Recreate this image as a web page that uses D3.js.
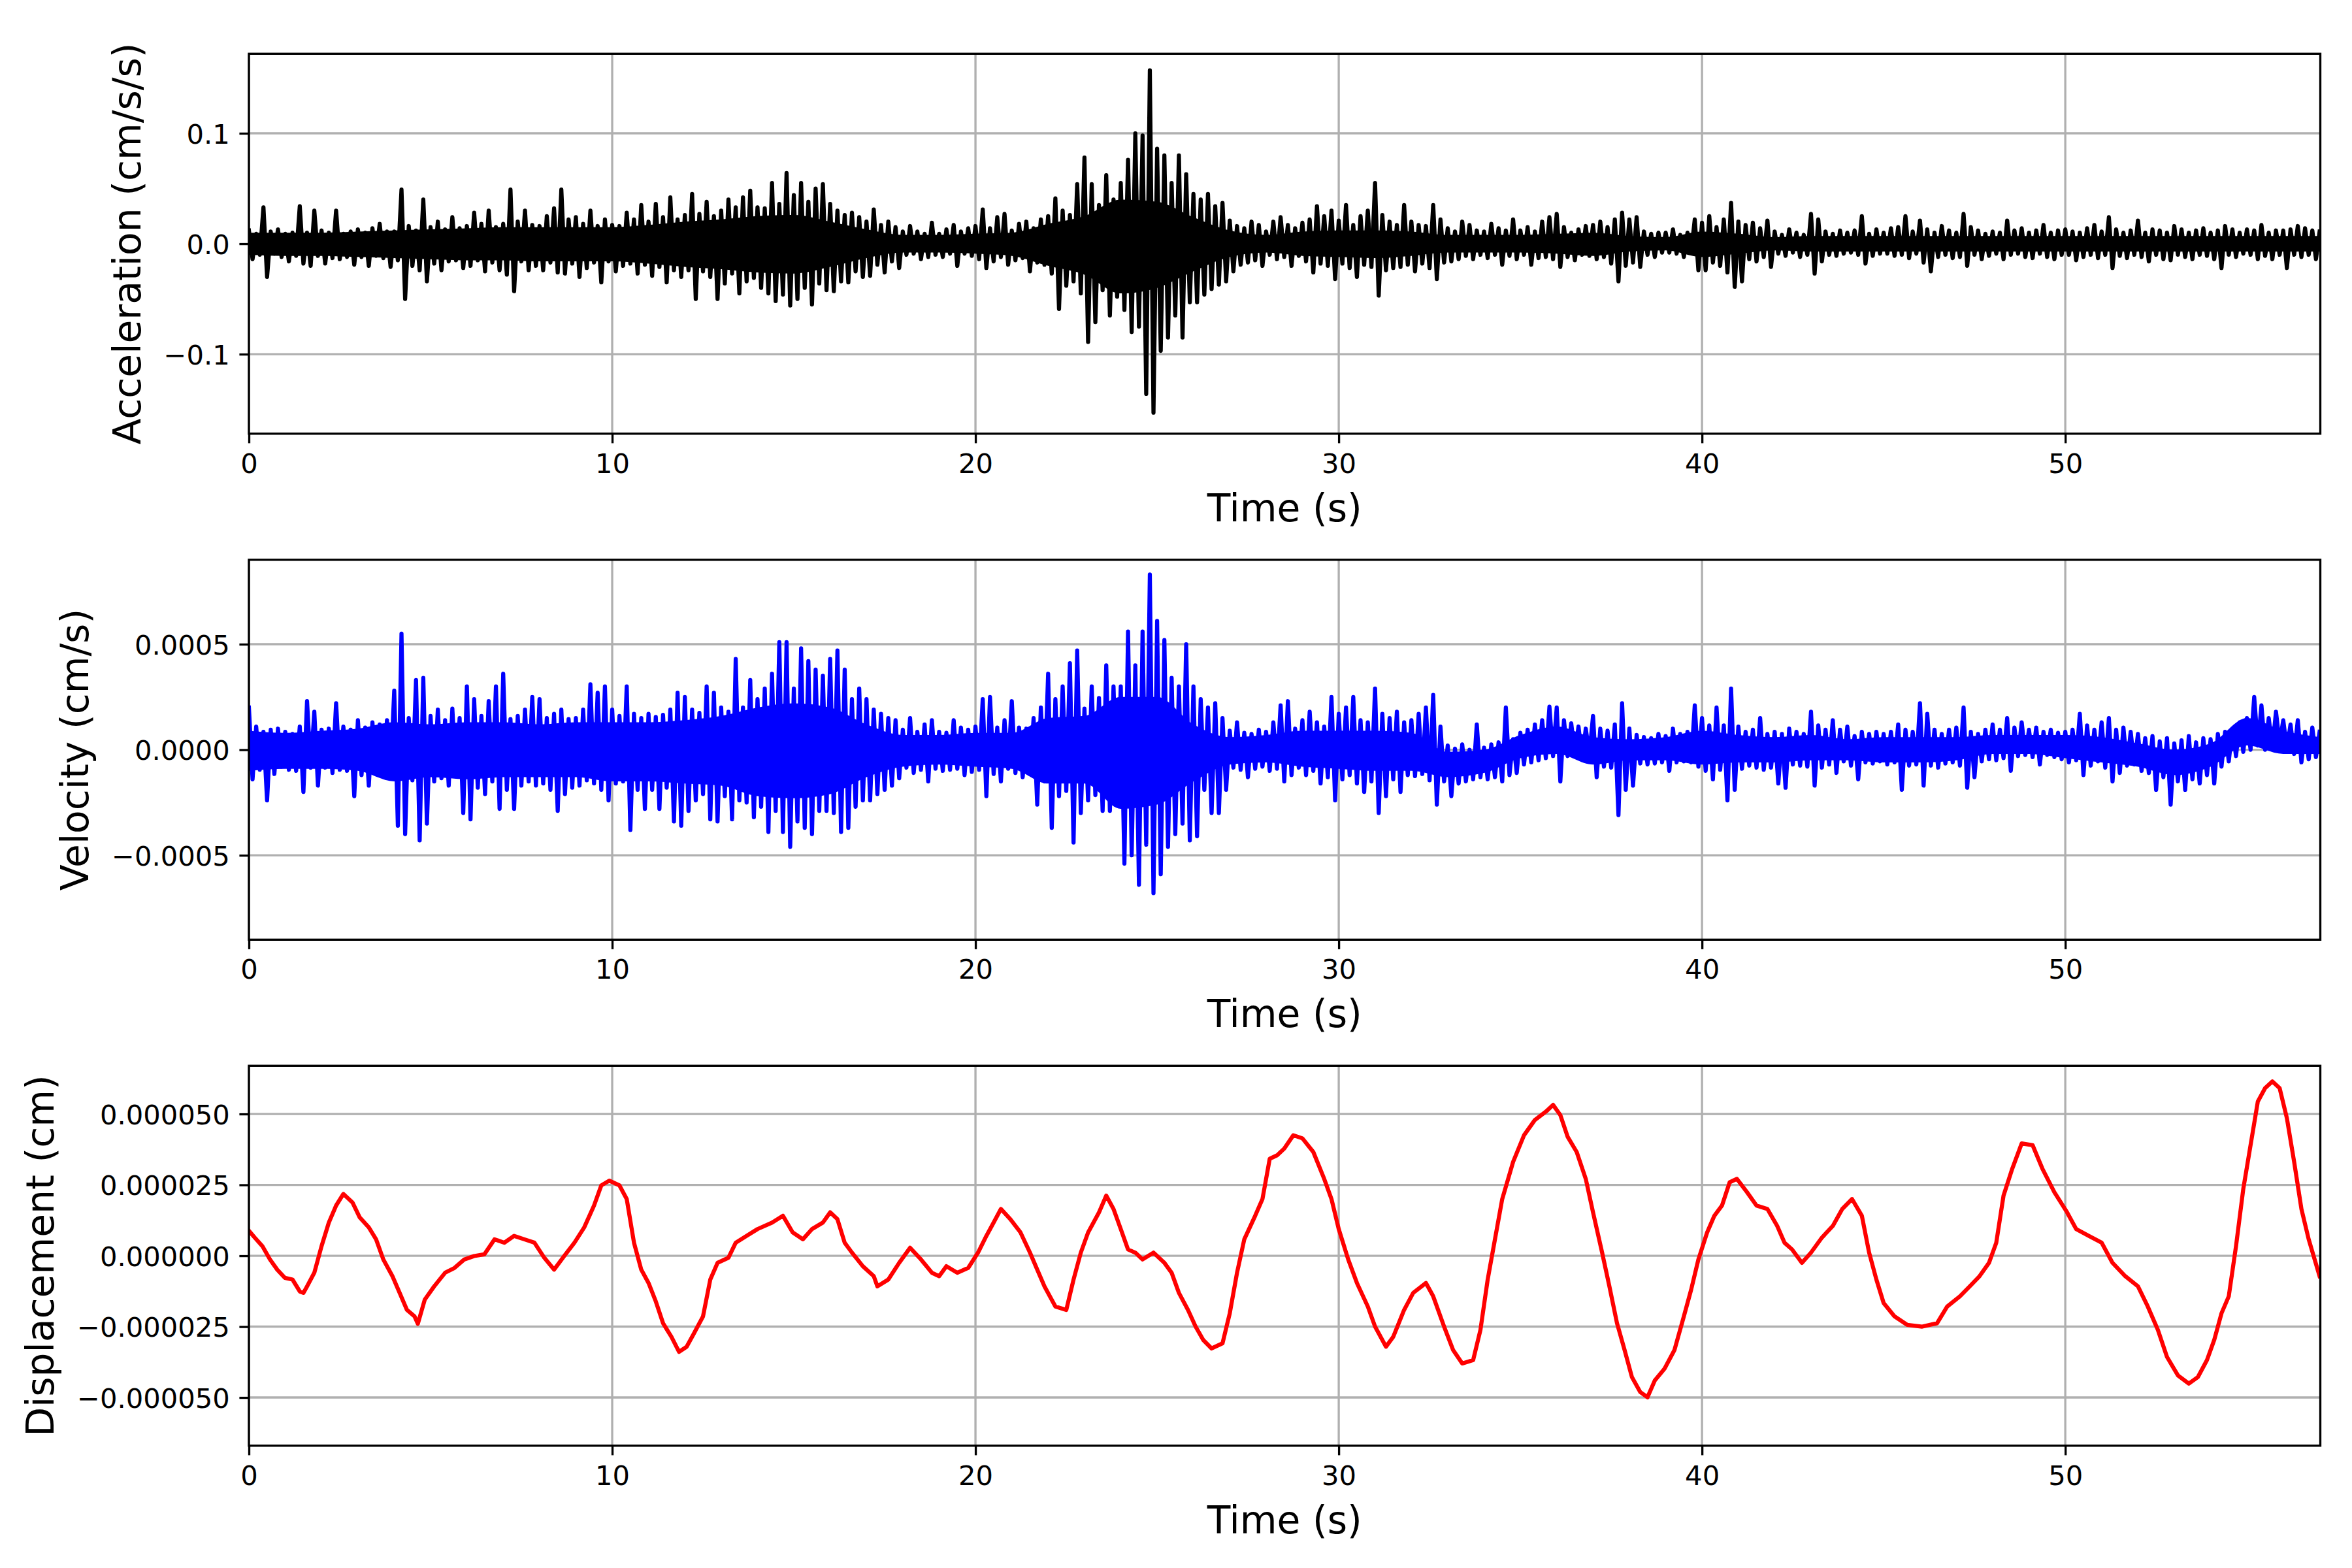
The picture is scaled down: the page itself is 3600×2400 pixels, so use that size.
<!DOCTYPE html>
<html>
<head>
<meta charset="utf-8">
<script src="https://cdn.jsdelivr.net/npm/d3@7"></script>
<style>
  body { margin: 0; background: #ffffff; }
  svg { display: block; }
  text { font-family: "DejaVu Sans", sans-serif; fill: #000; }
</style>
</head>
<body>
<svg id="chart" width="3600" height="2400"></svg>
<script>
// ---------------- DATA ----------------
// Sampling interval of the two noisy traces (s)
const SAMPLE_DT = 0.1;
// Sampling interval of the dense-core envelopes (s)
const CORE_DT = 1.0;

// Acceleration, units of 1e-3 cm/s/s, one value every 0.1 s from t = 0 to 57 s
const ACC_UNIT = 1e-3;
const acceleration = [
  12,-14,9,-10,33,-30,11,-9,13,-12,
  9,-16,10,-11,34,-18,10,-20,30,-11,
  12,-18,10,-13,30,-14,9,-12,11,-19,
  13,-12,10,-20,14,-11,18,-13,11,-21,
  11,-15,49,-50,16,-20,12,-24,40,-34,
  15,-18,20,-24,13,-16,24,-15,14,-22,
  16,-20,28,-15,18,-25,30,-17,15,-24,
  18,-28,49,-43,20,-16,30,-24,17,-20,
  16,-24,25,-17,32,-26,49,-27,22,-18,
  24,-30,18,-22,30,-17,16,-35,22,-16,
  17,-25,16,-20,28,-18,22,-27,35,-19,
  20,-29,36,-21,24,-35,42,-24,22,-30,
  26,-24,45,-50,27,-25,38,-30,25,-50,
  30,-36,40,-27,33,-45,42,-34,48,-31,
  33,-40,32,-45,55,-52,36,-46,64,-56,
  44,-50,55,-40,38,-55,50,-36,54,-42,
  36,-43,30,-34,26,-35,28,-25,24,-30,
  20,-29,31,-19,17,-26,20,-16,15,-22,
  11,-10,16,-9,11,-14,9,-12,19,-10,
  9,-12,13,-9,17,-20,11,-9,14,-11,
  16,-14,31,-22,14,-16,24,-12,27,-19,
  12,-15,18,-13,20,-25,14,-17,22,-19,
  25,-27,41,-59,30,-38,26,-34,54,-45,
  78,-89,54,-71,35,-42,62,-65,40,-48,
  55,-60,76,-80,100,-75,98,-136,157,-153,
  86,-97,80,-85,55,-65,80,-85,63,-53,
  45,-53,40,-46,45,-41,34,-37,37,-34,
  21,-25,16,-19,14,-17,20,-15,17,-20,
  11,-10,20,-14,24,-12,17,-20,14,-11,
  19,-16,22,-26,34,-18,25,-20,30,-32,
  21,-18,35,-22,17,-30,25,-19,30,-21,
  55,-47,26,-24,20,-22,17,-21,35,-19,
  20,-25,17,-18,16,-22,35,-32,22,-17,
  14,-16,11,-14,20,-11,17,-14,12,-10,
  11,-13,18,-10,14,-19,12,-11,22,-14,
  12,-10,15,-19,11,-13,20,-12,24,-14,
  27,-21,15,-12,10,-15,13,-10,16,-11,
  17,-14,20,-12,15,-18,22,-34,28,-20,
  22,-17,24,-21,11,-10,9,-12,10,-8,
  10,-8,13,-9,8,-12,10,-8,22,-24,
  19,-24,25,-17,15,-20,22,-26,37,-39,
  20,-34,17,-14,19,-16,14,-12,21,-21,
  11,-9,8,-11,13,-8,10,-12,8,-10,
  27,-27,22,-16,11,-10,9,-11,12,-9,
  10,-8,12,-10,25,-18,9,-11,13,-9,
  10,-9,14,-11,15,-10,25,-13,11,-9,
  21,-17,13,-25,10,-12,16,-10,12,-13,
  10,-12,27,-20,15,-10,12,-14,9,-11,
  11,-9,10,-14,21,-10,12,-9,14,-12,
  10,-13,12,-9,17,-12,10,-14,12,-10,
  13,-10,11,-15,10,-12,14,-10,17,-13,
  11,-10,24,-22,13,-11,10,-13,12,-10,
  21,-12,10,-16,13,-10,12,-14,10,-15,
  16,-10,13,-12,10,-14,12,-10,14,-11,
  10,-14,12,-22,16,-10,13,-12,10,-9,
  13,-10,12,-14,17,-11,10,-14,12,-10,
  12,-22,13,-10,16,-12,14,-10,12,-14,
  11
];
// Dense black core of the acceleration trace, upper / lower edge, 1e-3 cm/s/s, every 1 s
const accCoreUpper = [
  10,10,10,11,12,13,14,15,15,15,
  15,17,20,22,25,26,20,13,8,8,
  9,10,18,25,40,38,24,12,8,11,
  12,12,11,8,8,8,9,10,7,6,
  11,9,6,7,7,7,7,7,7,7,
  7,7,7,7,7,7,7,7
];
const accCoreLower = [
  -10,-11,-11,-12,-13,-14,-15,-15,-16,-16,
  -16,-18,-21,-23,-26,-27,-21,-13,-8,-8,
  -9,-11,-20,-28,-45,-40,-25,-12,-8,-11,
  -12,-13,-11,-8,-8,-8,-9,-11,-7,-6,
  -12,-9,-6,-7,-7,-7,-7,-7,-7,-7,
  -7,-7,-7,-7,-7,-7,-7,-7
];

// Velocity, units of 1e-6 cm/s, one value every 0.1 s from t = 0 to 57 s
const VEL_UNIT = 1e-6;
const velocity = [
  200,-140,110,-95,85,-240,95,-115,100,-80,
  85,-95,75,-100,110,-200,230,-85,180,-170,
  95,-85,100,-110,220,-95,110,-100,95,-220,
  140,-120,105,-170,130,-105,120,-115,140,-105,
  280,-360,550,-400,150,-145,330,-430,340,-350,
  160,-150,190,-135,140,-170,195,-125,150,-300,
  300,-330,240,-180,160,-210,230,-150,300,-280,
  360,-190,145,-280,160,-170,190,-150,250,-170,
  240,-160,150,-190,170,-290,190,-210,145,-180,
  150,-170,190,-145,310,-160,270,-190,300,-240,
  190,-160,160,-150,300,-380,170,-190,150,-280,
  170,-190,155,-280,165,-180,190,-340,270,-360,
  250,-290,190,-240,175,-210,300,-330,270,-340,
  200,-220,180,-330,430,-240,200,-250,330,-320,
  240,-270,290,-390,360,-290,510,-390,510,-460,
  290,-340,480,-370,420,-400,380,-290,350,-290,
  430,-300,470,-390,380,-370,240,-270,290,-240,
  240,-240,190,-210,170,-190,150,-170,140,-135,
  95,-85,150,-110,85,-95,120,-150,140,-90,
  85,-100,80,-95,140,-90,105,-120,95,-105,
  110,-95,240,-220,250,-115,105,-150,140,-90,
  230,-110,105,-130,100,-115,150,-260,200,-150,
  360,-370,240,-220,300,-195,410,-440,470,-300,
  195,-240,300,-215,245,-290,400,-290,300,-250,
  300,-540,560,-500,400,-640,560,-450,830,-680,
  610,-590,520,-460,340,-400,300,-350,500,-430,
  300,-410,240,-190,200,-300,220,-300,150,-190,
  90,-85,130,-95,80,-130,75,-90,95,-80,
  85,-100,130,-90,210,-150,230,-120,100,-85,
  140,-120,180,-100,130,-160,110,-130,250,-240,
  170,-140,200,-120,250,-160,140,-200,130,-150,
  290,-300,170,-220,150,-140,180,-200,130,-120,
  140,-125,170,-115,200,-145,260,-260,110,-150,
  20,-220,5,-160,25,-150,0,-140,120,-130,
  10,-140,25,-130,35,-150,200,-120,50,-110,
  80,-70,95,-60,120,-50,140,-40,204,-30,
  200,-150,140,-30,125,-20,110,-40,100,-20,
  160,-130,100,-80,90,-85,120,-310,220,-190,
  100,-170,70,-65,60,-70,55,-65,75,-60,
  65,-100,100,-60,75,-55,85,-60,210,-80,
  150,-100,115,-140,200,-95,115,-240,290,-190,
  110,-90,85,-75,95,-85,150,-95,75,-85,
  85,-160,75,-180,100,-70,85,-75,75,-80,
  180,-170,115,-85,95,-70,140,-110,95,-55,
  110,-75,65,-140,85,-60,75,-65,85,-55,
  75,-70,85,-60,120,-190,95,-75,85,-70,
  220,-170,170,-75,95,-85,75,-65,95,-60,
  105,-75,200,-180,85,-130,75,-55,95,-45,
  120,-50,95,-40,150,-100,105,-30,130,-25,
  95,-35,105,-70,85,-25,95,-35,80,-45,
  85,-60,95,-50,170,-120,115,-75,95,-55,
  130,-85,150,-150,95,-110,105,-75,85,-70,
  75,-100,55,-110,65,-190,40,-130,55,-260,
  30,-150,45,-190,65,-140,35,-160,55,-120,
  50,-160,75,-80,85,-55,100,-30,130,-10,
  150,0,250,20,210,0,150,10,180,30,
  140,5,120,-20,140,-60,85,-45,105,-35,
  85
];
// Dense blue core of the velocity trace, upper / lower edge, 1e-6 cm/s, every 1 s
const velCoreUpper = [
  90,80,90,100,130,120,130,130,120,130,
  130,130,140,160,200,220,200,120,70,70,
  80,80,150,160,250,250,120,60,70,90,
  90,90,80,-10,0,70,110,60,50,60,
  90,70,60,70,50,60,60,60,70,70,
  70,60,30,0,30,150,90,60
];
const velCoreLower = [
  -100,-90,-90,-100,-150,-130,-140,-130,-130,-130,
  -150,-150,-160,-170,-220,-230,-210,-130,-80,-70,
  -80,-90,-160,-160,-280,-260,-150,-70,-60,-80,
  -90,-100,-100,-130,-110,-40,-20,-70,-50,-50,
  -70,-60,-60,-50,-50,-60,-60,-50,-20,-20,
  -40,-60,-80,-120,-80,20,-20,-20
];

// Displacement: times (s) and values in units of 1e-7 cm
const DISP_UNIT = 1e-7;
const dispTime = [
  0,0.16,0.37,0.58,0.78,0.99,1.2,1.4,1.5,1.6,
  1.8,2.0,2.2,2.4,2.6,2.85,3.05,3.3,3.5,3.7,
  3.95,4.15,4.35,4.56,4.65,4.84,5.1,5.4,5.66,5.93,
  6.2,6.48,6.76,7.03,7.3,7.58,7.86,8.13,8.4,8.68,
  8.96,9.23,9.5,9.7,9.92,10.2,10.4,10.6,10.8,11.0,
  11.2,11.4,11.63,11.84,12.05,12.25,12.5,12.7,12.9,13.2,
  13.4,13.7,14.0,14.4,14.7,14.97,15.25,15.5,15.8,16.0,
  16.2,16.4,16.6,16.9,17.2,17.3,17.6,17.9,18.2,18.5,
  18.8,19.0,19.2,19.5,19.8,20.07,20.3,20.5,20.7,20.96,
  21.24,21.5,21.7,21.9,22.2,22.5,22.7,22.9,23.1,23.4,
  23.6,23.8,24.0,24.2,24.4,24.6,24.9,25.2,25.4,25.6,
  25.85,26.06,26.27,26.5,26.8,27.0,27.2,27.4,27.7,27.9,
  28.1,28.3,28.5,28.75,29.0,29.3,29.6,29.8,30.0,30.26,
  30.5,30.8,31.0,31.3,31.5,31.8,32.05,32.4,32.6,32.9,
  33.15,33.4,33.7,33.9,34.1,34.3,34.5,34.8,35.1,35.4,
  35.7,35.9,36.1,36.3,36.55,36.8,37.0,37.25,37.45,37.66,
  37.87,38.07,38.3,38.5,38.7,38.97,39.24,39.5,39.7,39.9,
  40.14,40.34,40.55,40.76,40.96,41.24,41.5,41.8,42.07,42.27,
  42.48,42.75,43.0,43.3,43.6,43.86,44.13,44.4,44.6,44.8,
  45.0,45.3,45.65,46.06,46.47,46.75,47.1,47.37,47.64,47.9,
  48.1,48.3,48.54,48.8,49.1,49.37,49.7,50.05,50.3,50.65,
  51.0,51.3,51.65,52.0,52.27,52.55,52.8,53.1,53.4,53.65,
  53.9,54.1,54.3,54.5,54.7,54.9,55.1,55.3,55.5,55.7,
  55.9,56.1,56.3,56.5,56.7,57.0
];
const displacement = [
  88,64,34,-13,-49,-78,-84,-126,-131,-108,
  -60,34,117,177,218,188,135,100,58,-13,
  -72,-131,-191,-214,-240,-155,-108,-60,-43,-13,
  -1,5,58,46,70,58,46,-7,-49,-1,
  46,100,177,248,265,248,200,46,-49,-96,
  -161,-238,-286,-339,-321,-274,-214,-84,-25,-7,
  46,70,94,117,141,82,58,94,117,153,
  129,46,11,-37,-72,-108,-84,-25,28,-13,
  -60,-72,-37,-60,-43,11,70,117,165,129,
  82,11,-49,-108,-179,-191,-84,11,82,153,
  212,165,94,22,11,-13,11,-25,-60,-131,
  -191,-250,-297,-327,-309,-203,-60,58,141,200,
  342,354,378,425,414,366,271,200,94,-13,
  -96,-179,-250,-321,-286,-191,-131,-96,-143,-250,
  -333,-380,-368,-262,-84,58,200,331,425,479,
  508,532,496,420,366,271,153,11,-108,-238,
  -333,-428,-481,-499,-440,-398,-333,-214,-120,-13,
  82,141,177,259,271,224,177,165,105,46,
  22,-25,11,64,105,165,200,141,11,-84,
  -167,-214,-244,-250,-238,-179,-143,-108,-72,-25,
  46,212,307,396,390,307,224,153,94,70,
  46,-25,-72,-108,-179,-262,-357,-422,-451,-428,
  -368,-297,-203,-143,34,236,390,544,591,615,
  591,485,331,165,58,-72
];

// Axis ranges and ticks
const timeMax = 57.02;
const timeTicks = [0, 10, 20, 30, 40, 50];
const accLimit = 0.172;
const accTicks = [-0.1, 0.0, 0.1];
const accTickLabels = ["\u22120.1", "0.0", "0.1"];
const velLimit = 0.0009;
const velTicks = [-0.0005, 0.0, 0.0005];
const velTickLabels = ["\u22120.0005", "0.0000", "0.0005"];
const dispLimit = 0.0000670;
const dispTicks = [-0.00005, -0.000025, 0.0, 0.000025, 0.00005];
const dispTickLabels = ["\u22120.000050", "\u22120.000025", "0.000000", "0.000025", "0.000050"];
const yLabels = ["Acceleration (cm/s/s)", "Velocity (cm/s)", "Displacement (cm)"];
const xLabel = "Time (s)";
const lineColors = ["#000000", "#0000ff", "#ff0000"];

// ---------------- LAYOUT ----------------
const plotLeft = 381, plotRight = 3551.5;
const panelTops = [82.3, 856.8, 1631.3];
const panelH = 581.5;
const tickFont = 41.7, labelFont = 58.3;
const tickLen = 14.6, thin = 3.33, lineW = 6.25;

const svg = d3.select("#chart");
svg.append("rect").attr("width", 3600).attr("height", 2400).attr("fill", "#fff");

const x = d3.scaleLinear().domain([0, timeMax]).range([plotLeft, plotRight]);

const panels = [
  { data: acceleration.map((v, i) => [i * SAMPLE_DT, v * ACC_UNIT]),
    core: accCoreUpper.map((v, i) => [i * CORE_DT, v * ACC_UNIT, accCoreLower[i] * ACC_UNIT]),
    lim: accLimit, ticks: accTicks, labels: accTickLabels },
  { data: velocity.map((v, i) => [i * SAMPLE_DT, v * VEL_UNIT]),
    core: velCoreUpper.map((v, i) => [i * CORE_DT, v * VEL_UNIT, velCoreLower[i] * VEL_UNIT]),
    lim: velLimit, ticks: velTicks, labels: velTickLabels },
  { data: dispTime.map((t, i) => [t, displacement[i] * DISP_UNIT]),
    core: null, lim: dispLimit, ticks: dispTicks, labels: dispTickLabels }
];

panels.forEach((p, k) => {
  const top = panelTops[k], bottom = top + panelH;
  const y = d3.scaleLinear().domain([-p.lim, p.lim]).range([bottom, top]);
  const g = svg.append("g");

  // grid
  g.append("g").selectAll("line").data(timeTicks).join("line")
    .attr("x1", d => x(d)).attr("x2", d => x(d)).attr("y1", top).attr("y2", bottom)
    .attr("stroke", "#b0b0b0").attr("stroke-width", thin);
  g.append("g").selectAll("line").data(p.ticks).join("line")
    .attr("x1", plotLeft).attr("x2", plotRight).attr("y1", d => y(d)).attr("y2", d => y(d))
    .attr("stroke", "#b0b0b0").attr("stroke-width", thin);

  // data
  const clipId = "clip" + k;
  svg.append("clipPath").attr("id", clipId).append("rect")
    .attr("x", plotLeft).attr("y", top).attr("width", plotRight - plotLeft).attr("height", panelH);
  if (p.core) {
    const area = d3.area().x(d => x(d[0])).y0(d => y(d[2])).y1(d => y(d[1]))
      .curve(d3.curveMonotoneX);
    g.append("path").datum(p.core)
      .attr("clip-path", `url(#${clipId})`)
      .attr("d", area).attr("fill", lineColors[k]).attr("stroke", "none");
  }
  const line = d3.line().x(d => x(d[0])).y(d => y(d[1]));
  g.append("path").datum(p.data)
    .attr("clip-path", `url(#${clipId})`)
    .attr("d", line).attr("fill", "none")
    .attr("stroke", lineColors[k]).attr("stroke-width", lineW)
    .attr("stroke-linejoin", "round").attr("stroke-linecap", "square");

  // frame
  g.append("rect").attr("x", plotLeft).attr("y", top)
    .attr("width", plotRight - plotLeft).attr("height", panelH)
    .attr("fill", "none").attr("stroke", "#000").attr("stroke-width", thin);

  // x axis
  const xa = g.append("g").attr("transform", `translate(0,${bottom})`)
    .call(d3.axisBottom(x).tickValues(timeTicks).tickFormat(d3.format("d"))
      .tickSize(tickLen).tickSizeOuter(0).tickPadding(15.8));
  xa.select(".domain").remove();
  xa.selectAll(".tick line").attr("stroke", "#000").attr("stroke-width", thin);
  xa.selectAll(".tick text").attr("font-size", tickFont).attr("font-family", "DejaVu Sans");

  // y axis
  const ya = g.append("g").attr("transform", `translate(${plotLeft},0)`)
    .call(d3.axisLeft(y).tickValues(p.ticks).tickFormat((d, i) => p.labels[i])
      .tickSize(tickLen).tickSizeOuter(0).tickPadding(14.6));
  ya.select(".domain").remove();
  ya.selectAll(".tick line").attr("stroke", "#000").attr("stroke-width", thin);
  ya.selectAll(".tick text").attr("font-size", tickFont).attr("font-family", "DejaVu Sans").attr("dy", "0.36em");

  // x label
  g.append("text").attr("x", (plotLeft + plotRight) / 2).attr("y", bottom + 134)
    .attr("text-anchor", "middle").attr("font-size", labelFont).text(xLabel);

  // y label, placed left of the widest tick label
  let minX = 0;
  ya.selectAll(".tick text").each(function () {
    minX = Math.min(minX, this.getBBox().x);
  });
  const labelX = plotLeft + minX - 36;
  const cy = (top + bottom) / 2;
  g.append("text").attr("transform", `translate(${labelX},${cy}) rotate(-90)`)
    .attr("text-anchor", "middle").attr("font-size", labelFont).text(yLabels[k]);
});
</script>
</body>
</html>
